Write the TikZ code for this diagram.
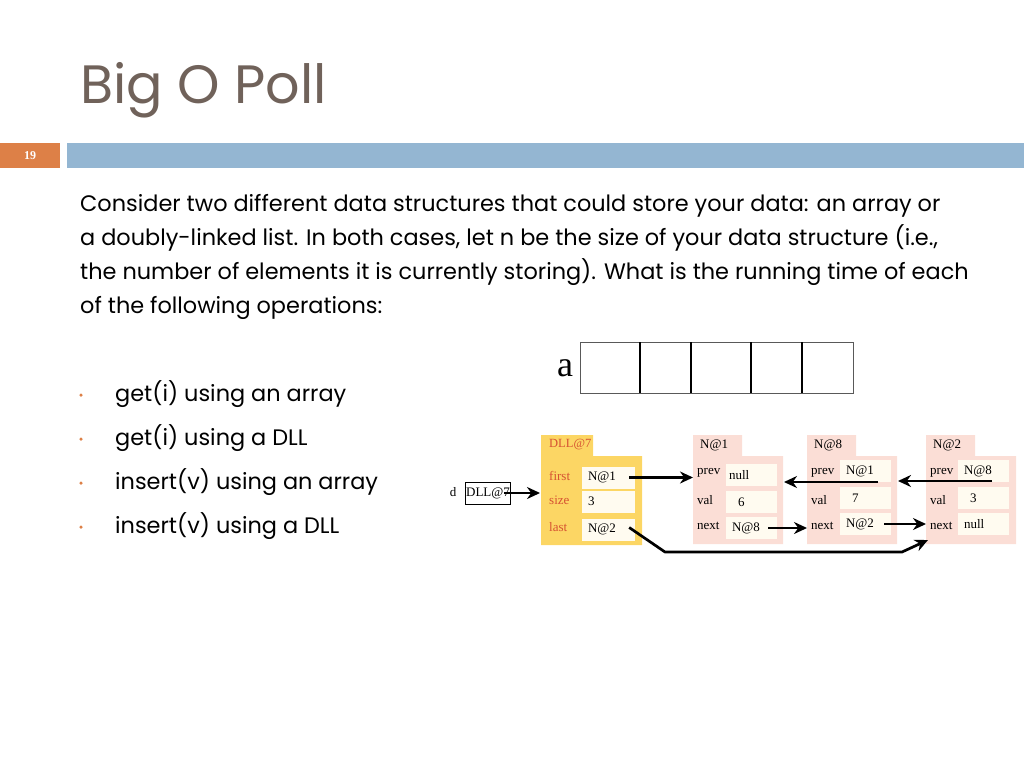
\documentclass[tikz,border=0pt]{standalone}
\usepackage{fontspec}
\setmainfont{Poppins}
\newfontfamily\diafont{Liberation Serif}
\usetikzlibrary{positioning,arrows.meta}
\definecolor{titlegray}{RGB}{112,98,90}
\definecolor{barblue}{RGB}{148,182,210}
\definecolor{barorange}{RGB}{221,128,71}
\definecolor{dllyellow}{RGB}{252,214,100}
\definecolor{nodepink}{RGB}{251,222,214}
\definecolor{fieldred}{RGB}{214,82,50}
\definecolor{cellcream}{RGB}{255,251,240}
\begin{document}
\begin{tikzpicture}[x=1pt,y=-1pt,
    txt/.style={anchor=base west,inner sep=0pt,font=\fontsize{22.4}{26}\selectfont},
    dot/.style={circle,fill=barorange,inner sep=0pt,minimum size=3.5pt},
    cell/.style={fill=cellcream,draw=none,inner xsep=6pt,inner ysep=0pt,minimum height=22pt,
      text width=40pt,align=left,font=\diafont\fontsize{13}{13}\selectfont},
    fld/.style={anchor=west,inner sep=0pt,font=\diafont\fontsize{13}{13}\selectfont},
    ptr/.style={line width=2.7pt,-{Stealth[length=13pt,width=12pt]}}]
  \useasboundingbox (0,0) rectangle (1024,768);
  % header
  \node[anchor=base west,inner sep=0pt,text=titlegray,font=\fontsize{54}{54}\selectfont] (title) at (80,103) {Big O Poll};
  \fill[barorange] (0,143) rectangle (60,168);
  \fill[barblue] (67,143) rectangle (1024,168);
  \node[text=white,font=\diafont\bfseries\fontsize{12}{12}\selectfont] (num) at (30,155.5) {19};
  % question
  \node[txt] (l1) at (80,211) {Consider two different data structures that could store your data: an array or};
  \node[txt] (l2) at (80,245) {a doubly-linked list. In both cases, let n be the size of your data structure (i.e.,};
  \node[txt] (l3) at (80,279) {the number of elements it is currently storing). What is the running time of each};
  \node[txt] (l4) at (80,313) {of the following operations:};
  % bullets
  \foreach \y/\t [count=\i] in {401/get(i) using an array,445/get(i) using a DLL,489/insert(v) using an array,533/insert(v) using a DLL}{
    \node[dot] (b\i) at (81,\y-6) {};
    \node[txt] (q\i) at (115,\y) {\t};
  }
  % array
  \node[font=\diafont\fontsize{36}{36}\selectfont,inner sep=0pt] (aname) at (565,368) {a};
  \draw[gray!70!black,line width=0.8pt] (580,342) rectangle (853,393);
  \foreach \x in {640,691,751,802}
    \draw[line width=1.5pt] (\x,342) -- (\x,393);
  % variable d
  \node[font=\diafont\fontsize{13}{13}\selectfont,inner sep=0pt] (dname) at (453,492) {d};
  \node[draw,line width=0.8pt,minimum width=44pt,minimum height=22pt,inner sep=1pt,
    font=\diafont\fontsize{13}{13}\selectfont] (dref) at (488,493) {DLL@7};
  % DLL object
  \fill[dllyellow] (541,435) rectangle (593,457) (541,456) rectangle (642,545);
  \node[anchor=west,inner sep=0pt,text=fieldred,font=\diafont\fontsize{12.5}{12.5}\selectfont] (dlltab) at (549,445) {DLL@7};
  \node[fld,text=fieldred] (lfirst) at (549,476) {first};
  \node[fld,text=fieldred] (lsize) at (549,500) {size};
  \node[fld,text=fieldred] (llast) at (549,527) {last};
  \node[cell,text width=41pt] (first) at (608.5,477.5) {N@1};
  \node[cell,text width=41pt] (size) at (608.5,501.5) {3};
  \node[cell,text width=41pt] (last) at (608.5,529.5) {N@2};
  % list nodes
  \foreach \n/\x/\t in {a/693/N@1,b/807/N@8,c/926/N@2}{
    \fill[nodepink] (\x,435) rectangle (\x+49,457) (\x,456) rectangle (\x+90,544);
    \node[anchor=west,inner sep=0pt,font=\diafont\fontsize{13}{13}\selectfont] (tab\n) at (\x+7,445) {\t};
    \node[fld] (lp\n) at (\x+4,473) {prev};
    \node[fld] (lv\n) at (\x+4,500) {val};
    \node[fld] (ln\n) at (\x+4,526) {next};
  }
  \node[cell,text width=39pt,inner xsep=6pt] (pa) at (751.5,475) {\hspace*{-3pt}null};
  \node[cell,text width=39pt] (va) at (751.5,502) {\hspace*{6pt}6};
  \node[cell,text width=39pt] (na) at (751.5,528) {N@8};
  \node[cell,text width=39pt] (pb) at (865.5,471) {N@1};
  \node[cell,text width=39pt] (vb) at (865.5,498) {\hspace*{6pt}7};
  \node[cell,text width=39pt] (nb) at (865.5,524) {N@2};
  \node[cell,text width=39pt] (pc) at (983.5,471) {N@8};
  \node[cell,text width=39pt] (vc) at (983.5,498) {\hspace*{6pt}3};
  \node[cell,text width=39pt] (nc) at (983.5,524) {null};
  % pointers
  \coordinate (c1) at (665,552);
  \coordinate (c2) at (902,552);
  \coordinate (c3) at (928,540);
  \draw[ptr] ([xshift=-7pt]dref.east) -- (dref.east -| 540,0);
  \draw[ptr] ([xshift=-6pt]first.east) -- (first.east -| 693,0);
  \draw[ptr] ([xshift=-13pt,yshift=-11pt]pb.east) -- ([yshift=-11pt]pb.east -| 784,0);
  \draw[ptr] ([xshift=-17pt,yshift=-10pt]pc.east) -- ([yshift=-10pt]pc.east -| 898,0);
  \draw[ptr] ([xshift=-9pt]na.east) -- (na.east -| 807,0);
  \draw[ptr] ([xshift=-7pt]nb.east) -- (nb.east -| 926,0);
  \draw[ptr,line join=round] ([xshift=-6pt,yshift=2pt]last.east) -- (c1) -- (c2) -- (c3);
\end{tikzpicture}
\end{document}
